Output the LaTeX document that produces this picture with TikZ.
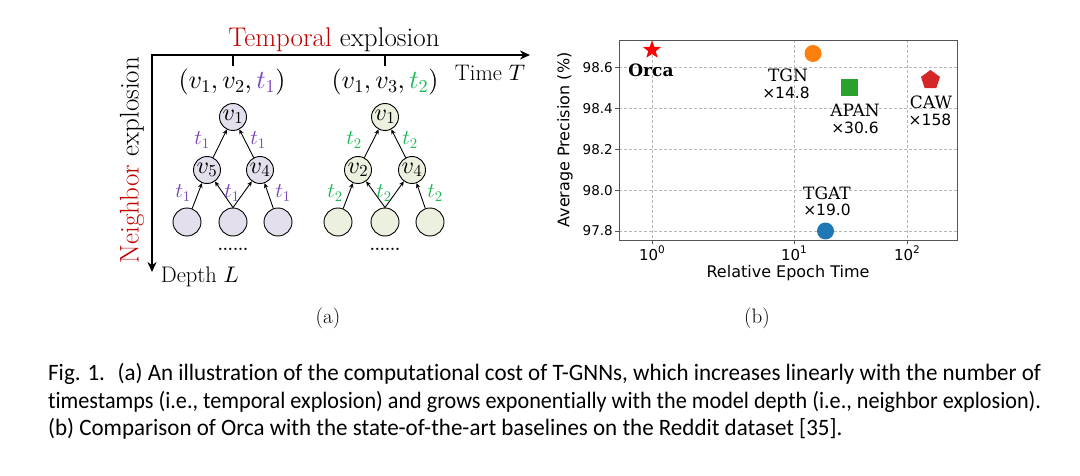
\documentclass[tikz,border=0pt]{standalone}
\usepackage{fontspec}
\usetikzlibrary{shapes.geometric,arrows.meta}
\DeclareFontShape{OML}{cmm}{m}{it}{<->cmmi10}{}
\DeclareFontShape{OT1}{cmr}{m}{n}{<->cmr10}{}
\DeclareFontShape{OMS}{cmsy}{m}{n}{<->cmsy10}{}
\newfontfamily\dvs{DejaVu Sans}
\newfontfamily\dvserif{DejaVu Serif}
\newfontfamily\capfont[Ligatures={NoCommon}]{Carlito}
\definecolor{lav}{HTML}{E4DFEC}
\definecolor{lgreen}{HTML}{EBF1DE}
\definecolor{purp}{HTML}{7B45BB}
\definecolor{grn}{HTML}{1DB954}
\definecolor{dred}{HTML}{C00000}
\definecolor{tabblue}{HTML}{1F77B4}
\definecolor{taborange}{HTML}{FF7F0E}
\definecolor{tabgreen}{HTML}{2CA02C}
\definecolor{tabred}{HTML}{D62728}
\definecolor{gridgray}{HTML}{B8B8B8}
\definecolor{framegray}{HTML}{555555}
\newsavebox\capboxA
\newsavebox\capboxB
\newsavebox\capboxC
\tikzset{
 bigfont/.style={font=\fontsize{27}{28}\selectfont},
 medfont/.style={font=\fontsize{22.5}{24}\selectfont},
 tupfont/.style={font=\fontsize{26}{28}\selectfont},
 treeA/.style={circle,draw=black,line width=0.9pt,fill=lav,minimum size=27pt,inner sep=0pt,font=\fontsize{24}{24}\selectfont},
 treeB/.style={treeA,fill=lgreen},
 leafA/.style={treeA,minimum size=28pt},
 leafB/.style={treeB,minimum size=28pt},
 tedge/.style={line width=0.9pt,-{Stealth[length=5pt,width=4.5pt]}},
 labA/.style={text=purp,font=\fontsize{21}{21}\selectfont,inner sep=0pt},
 labB/.style={labA,text=grn},
 gridln/.style={dash pattern=on 3pt off 2pt,line width=0.5pt,color=gridgray},
 ticklab/.style={font=\dvs\fontsize{13.5}{14}\selectfont,inner sep=0pt},
 xticklab/.style={font=\dvs\fontsize{15}{15}\selectfont,inner sep=0pt},
 axlab/.style={font=\dvs\fontsize{16}{17}\selectfont,inner sep=0pt},
 mname/.style={font=\dvserif\fontsize{17}{18}\selectfont,inner sep=0pt},
 mmult/.style={font=\dvs\fontsize{15.5}{16}\selectfont,inner sep=0pt},
 mkr/.style={inner sep=0pt,draw=none},
 capline/.style={anchor=base west,inner sep=0pt},
}
\begin{document}
\sbox\capboxA{\capfont\fontsize{23.5}{27}\selectfont Fig. 1.\hspace{0.55em}(a) An illustration of the computational cost of T-GNNs, which increases linearly with the number of}%
\sbox\capboxB{\capfont\fontsize{23.5}{27}\selectfont timestamps (i.e., temporal explosion) and grows exponentially with the model depth (i.e., neighbor explosion).}%
\sbox\capboxC{\capfont\fontsize{23.5}{27}\selectfont (b) Comparison of Orca with the state-of-the-art baselines on the Reddit dataset [35].}%
\begin{tikzpicture}[x=1pt,y=-1pt]
\useasboundingbox[fill=white] (0,0) rectangle (1080,476);

% ---------- panel (a) ----------
\coordinate (O) at (152,55);
\coordinate (Tend) at (530,55);
\coordinate (Lend) at (152,272);
\draw[line width=2.4pt,line join=miter,{Stealth[length=10pt,width=9pt]}-{Stealth[length=10pt,width=9pt]}] (Lend) -- (O) -- (Tend);
\coordinate (tk1) at (233,55);
\coordinate (tk2) at (385,55);
\draw[line width=2.4pt] (tk1) -- ++(0,11);
\draw[line width=2.4pt] (tk2) -- ++(0,11);

\node[bigfont,inner sep=0pt] (temp) at (334,40) {\textcolor{dred}{Temporal} explosion};
\node[bigfont,inner sep=0pt,rotate=90] (neigh) at (132,160) {\textcolor{dred}{Neighbor} explosion};
\node[medfont,inner sep=0pt] (timeT) at (490,73) {Time $T$};
\node[medfont,inner sep=0pt] (depthL) at (200,277) {Depth $L$};
\node[tupfont,inner sep=0pt] (tupA) at (232,82) {$(v_1, v_2, \textcolor{purp}{t_1})$};
\node[tupfont,inner sep=0pt] (tupB) at (385,82) {$(v_1, v_3, \textcolor{grn}{t_2})$};

% left tree
\node[treeA] (a1) at (233,117) {$v_1$};
\node[treeA] (a5) at (207,170) {$v_5$};
\node[treeA] (a4) at (260,170) {$v_4$};
\node[leafA] (aL1) at (187,222) {};
\node[leafA] (aL2) at (233,222) {};
\node[leafA] (aL3) at (278,222) {};
\draw[tedge] (a5) -- (a1);
\draw[tedge] (a4) -- (a1);
\draw[tedge] (aL1) -- (a5);
\draw[tedge] (aL2.north) -- (a5);
\draw[tedge] (aL2.north) -- (a4);
\draw[tedge] (aL3) -- (a4);
\node[labA] (la1) at (202,140) {$t_1$};
\node[labA] (la2) at (258,140) {$t_1$};
\node[labA] (la3) at (183,193) {$t_1$};
\node[labA] (la4) at (232,193) {$t_1$};
\node[labA] (la5) at (283,193) {$t_1$};
\node[inner sep=0pt,font=\fontsize{16}{16}\bfseries] (dotsA) at (233,249) {......};

% right tree
\node[treeB] (b1) at (385,117) {$v_1$};
\node[treeB] (b2) at (358,170) {$v_2$};
\node[treeB] (b4) at (412,170) {$v_4$};
\node[leafB] (bL1) at (338,222) {};
\node[leafB] (bL2) at (385,222) {};
\node[leafB] (bL3) at (430,222) {};
\draw[tedge] (b2) -- (b1);
\draw[tedge] (b4) -- (b1);
\draw[tedge] (bL1) -- (b2);
\draw[tedge] (bL2.north) -- (b2);
\draw[tedge] (bL2.north) -- (b4);
\draw[tedge] (bL3) -- (b4);
\node[labB] (lb1) at (354,140) {$t_2$};
\node[labB] (lb2) at (410,140) {$t_2$};
\node[labB] (lb3) at (335,193) {$t_2$};
\node[labB] (lb4) at (384,193) {$t_2$};
\node[labB] (lb5) at (435,193) {$t_2$};
\node[inner sep=0pt,font=\fontsize{16}{16}\bfseries] (dotsB) at (385,249) {......};

\node[inner sep=0pt,font=\fontsize{21}{22}\selectfont] (suba) at (328,318) {(a)};
\node[inner sep=0pt,font=\fontsize{21}{22}\selectfont] (subb) at (757,318) {(b)};

% ---------- panel (b) ----------
\foreach \gx in {652,794,907} {\draw[gridln] (\gx,40) -- (\gx,240);}
\foreach \gy in {67.6,108.5,149.3,190.2,231} {\draw[gridln] (619,\gy) -- (957,\gy);}
\draw[framegray,line width=0.8pt] (619,40) rectangle (957,240);
\foreach \gy/\lab in {67.6/98.6,108.5/98.4,149.3/98.2,190.2/98.0,231/97.8} {
  \draw[framegray,line width=0.8pt] (615,\gy) -- (619,\gy);
  \node[ticklab,anchor=east] at (613,\gy) {\lab};
}
\foreach \gx/\ex in {652/0,794/1,907/2} {
  \draw[framegray,line width=0.8pt] (\gx,240) -- (\gx,244);
  \node[xticklab,anchor=north] at (\gx,245.5) {10\raisebox{0.45em}{\fontsize{10.5}{11}\selectfont\ex}};
}
\node[axlab] (xlab) at (788,273) {Relative Epoch Time};
\node[axlab,rotate=90] (ylab) at (565,140) {Average Precision (\%)};

\node[mkr,star,star points=5,star point ratio=2.4,fill=red,minimum size=19pt] (orca) at (652,50) {};
\node[mkr,circle,fill=taborange,minimum size=17pt] (tgn) at (813,53.5) {};
\node[mkr,rectangle,fill=tabgreen,minimum size=17pt] (apan) at (849.5,88) {};
\node[mkr,regular polygon,regular polygon sides=5,fill=tabred,minimum size=20pt] (caw) at (930.5,80) {};
\node[mkr,circle,fill=tabblue,minimum size=17pt] (tgat) at (825.5,231) {};

\node[mname,font=\dvserif\bfseries\fontsize{17}{18}\selectfont] (orcaL) at (651,70.7) {Orca};
\node[mname] (tgnL) at (788,75.7) {TGN};
\node[mmult] (tgnM) at (786,93) {×14.8};
\node[mname] (apanL) at (855,110) {APAN};
\node[mmult] (apanM) at (855,128) {×30.6};
\node[mname] (cawL) at (931,102.7) {CAW};
\node[mmult] (cawM) at (930,120) {×158};
\node[mname] (tgatL) at (827,193.3) {TGAT};
\node[mmult] (tgatM) at (827,210) {×19.0};

% ---------- caption ----------
\node[capline] (cap1) at (48,380) {\resizebox{993pt}{\height}{\usebox\capboxA}};
\node[capline] (cap2) at (48,408) {\resizebox{993pt}{\height}{\usebox\capboxB}};
\node[capline] (cap3) at (48,435) {\resizebox{\dimexpr 993pt*\wd\capboxC/\wd\capboxA\relax}{\height}{\usebox\capboxC}};
\end{tikzpicture}
\end{document}
